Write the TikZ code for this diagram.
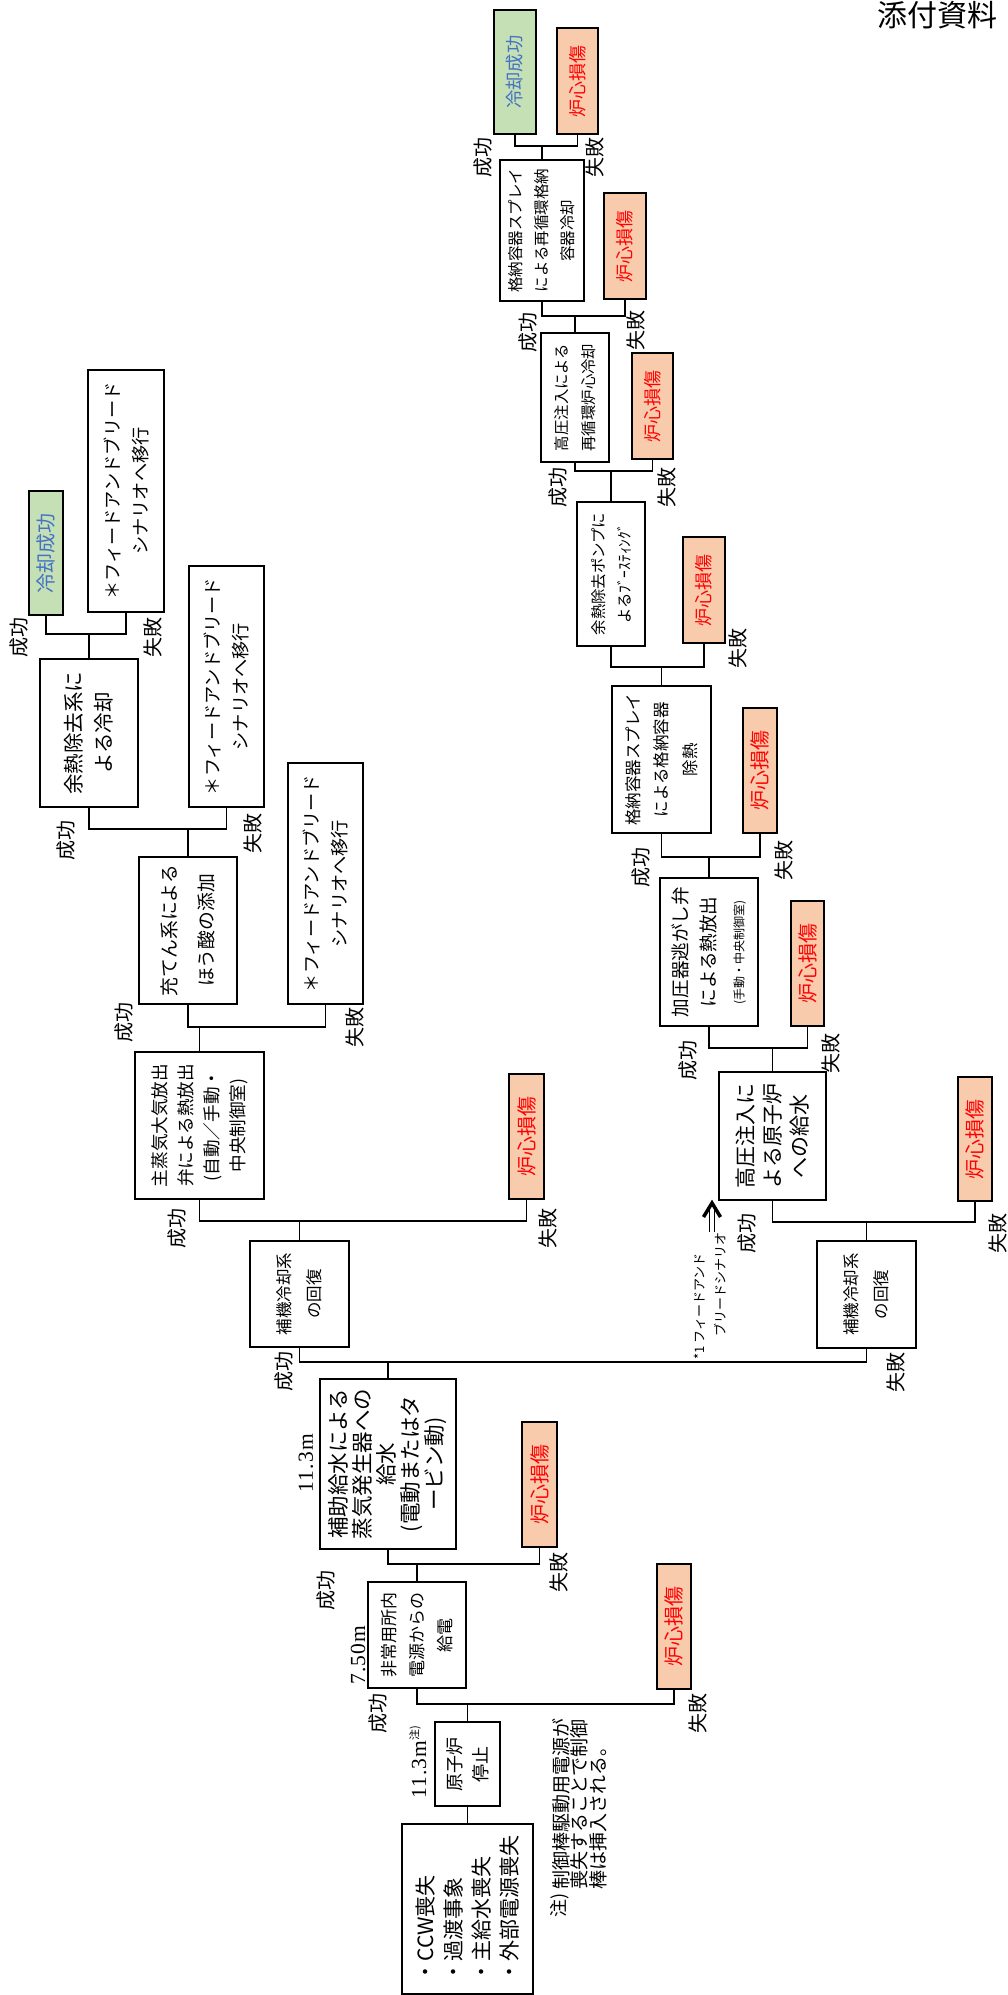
\documentclass[tikz,border=0pt]{standalone}
\usepackage{fontspec}
\setmainfont{Noto Sans CJK JP}
\newfontfamily\serifnum[LetterSpace=6]{Liberation Serif}
\usetikzlibrary{calc}
\definecolor{okgreen}{HTML}{C5E0B4}
\definecolor{okblue}{HTML}{4472C4}
\definecolor{cdfill}{HTML}{F8CBAD}
\definecolor{cdred}{HTML}{FF0000}
\begin{document}
\begin{tikzpicture}[x=1pt,y=-1pt,
  conn/.style={line width=1.8pt},
  wh/.style 2 args={minimum height=#1pt, minimum width=#2pt},
  fs/.style 2 args={font=\fontsize{#1}{#2}\selectfont},
  box/.style={draw, line width=1.8pt, rotate=90, inner sep=0pt, align=center, fill=white},
  cd/.style={box, fill=cdfill, text=cdred, fs={20}{22}},
  ok/.style={box, fill=okgreen, text=okblue, fs={20}{22}},
  lbl/.style={rotate=90, inner sep=0pt, font=\fontsize{20}{22}\selectfont},
  num/.style={rotate=90, inner sep=0pt, font=\serifnum\fontsize{21.5}{23}\selectfont},
]
\fill[white] (0,0) rectangle (1008,1995);
\useasboundingbox (0,0) rectangle (1008,1995);

% boxes
\node[box, wh={131}{170}, fs={21}{28}, align=left] (ccw) at (467.5,1909) {・CCW喪失\\・過渡事象\\・主給水喪失\\・外部電源喪失};
\node[box, wh={65}{84}, fs={18}{26}] (gen) at (467.5,1764) {原子炉\\停止};
\node[box, wh={98}{106}, fs={17}{28}] (hijo) at (417,1635) {非常用所内\\電源からの\\給電};
\node[cd, wh={34}{125}] (cd1) at (674,1626.5) {炉心損傷};
\node[box, wh={136}{170}, fs={21.5}{24}] (hojo) at (388,1464) {補助給水による\\蒸気発生器への\\給水\\(電動またはタ\\ービン動)};
\node[cd, wh={35}{125}] (cd2) at (539.5,1484.5) {炉心損傷};
\node[box, wh={99}{106}, fs={16.5}{30}] (hokia) at (299.5,1294) {補機冷却系\\の回復};
\node[box, wh={99}{107}, fs={16.5}{30}] (hokib) at (866.5,1294.5) {補機冷却系\\の回復};
\node[box, wh={129}{147}, fs={17.6}{26}] (msv) at (199.5,1125.5) {主蒸気大気放出\\弁による熱放出\\(自動／手動・\\中央制御室)};
\node[cd, wh={35}{125}] (cd3) at (526.5,1136.5) {炉心損傷};
\node[box, wh={98}{147}, fs={18.8}{37}] (boric) at (188,930.5) {充てん系による\\ほう酸の添加};
\node[box, wh={75}{241}, fs={18.2}{28}] (fbc) at (325.5,883.5) {＊フィードアンドブリード\\シナリオへ移行};
\node[box, wh={98}{148}, fs={20.5}{30}] (rhr) at (89,733) {余熱除去系に\\よる冷却};
\node[box, wh={75}{241}, fs={18.2}{28}] (fbb) at (226.5,686.5) {＊フィードアンドブリード\\シナリオへ移行};
\node[ok, wh={34}{124}] (oka) at (46,553) {冷却成功};
\node[box, wh={76}{242}, fs={18.2}{28}] (fba) at (126,491) {＊フィードアンドブリード\\シナリオへ移行};
\node[box, wh={107}{128}, fs={21}{27}] (hpi) at (772.5,1136) {高圧注入に\\よる原子炉\\への給水};
\node[cd, wh={34}{124}] (cd4) at (975,1139) {炉心損傷};
\node[box, wh={98}{148}, fs={18.6}{28}] (porv) at (709,952) {加圧器逃がし弁\\による熱放出\\{\fontsize{12}{14}\selectfont (手動・中央制御室)}};
\node[cd, wh={33}{125}] (cd5) at (807.5,963.5) {炉心損傷};
\node[box, wh={99}{147}, fs={16.5}{28.5}] (csa) at (661.5,759.5) {格納容器スプレイ\\による格納容器\\除熱};
\node[cd, wh={34}{125}] (cd6) at (760,770.5) {炉心損傷};
\node[box, wh={68}{144}, fs={15.4}{26}] (rhrp) at (611,574) {余熱除去ポンプに\\よるﾌﾞｰｽﾃｨﾝｸﾞ};
\node[cd, wh={42}{106}, fs={18}{20}] (cd7) at (704,590) {炉心損傷};
\node[box, wh={68}{129}, fs={15.4}{27}] (hpr) at (575,397.5) {高圧注入による\\再循環炉心冷却};
\node[cd, wh={41}{106}, fs={18}{20}] (cd8) at (652.5,406) {炉心損傷};
\node[box, wh={84}{141}, fs={15.5}{26}] (csr) at (542,230.5) {格納容器スプレイ\\による再循環格納\\容器冷却};
\node[cd, wh={42}{106}, fs={18}{20}] (cd9) at (625,246) {炉心損傷};
\node[ok, wh={42}{124}, fs={18.3}{20}] (okb) at (515,72) {冷却成功};
\node[cd, wh={41}{106}, fs={18}{20}] (cd10) at (577.5,81) {炉心損傷};

% connectors
\draw[conn] (ccw.east) -- (gen.west);
\draw[conn] (gen.east) -- ++(0,-17) coordinate (jgen);
\draw[conn] (hijo.west) |- (jgen) -| (cd1.west);
\draw[conn] (hijo.east) -- ++(0,-17) coordinate (jhijo);
\draw[conn] (hojo.west) |- (jhijo) -| (cd2.west);
\draw[conn] (hojo.east) -- ++(0,-16) coordinate (jhojo);
\draw[conn] (hokia.west) |- (jhojo) -| (hokib.west);
\draw[conn] (hokia.east) -- ++(0,-19) coordinate (jhokia);
\draw[conn] (msv.west) |- (jhokia) -| (cd3.west);
\draw[conn] (msv.east) -- ++(0,-24) coordinate (jmsv);
\draw[conn] (boric.west) |- (jmsv) -| (fbc.west);
\draw[conn] (boric.east) -- ++(0,-27) coordinate (jboric);
\draw[conn] (rhr.west) |- (jboric) -| (fbb.west);
\draw[conn] (rhr.east) -- ++(0,-24) coordinate (jrhr);
\draw[conn] (oka.west) |- (jrhr) -| (fba.west);
\draw[conn] (hokib.east) -- ++(0,-18) coordinate (jhokib);
\draw[conn] (hpi.west) |- (jhokib) -| (cd4.west);
\draw[conn] (hpi.east) -- ++(0,-23) coordinate (jhpi);
\draw[conn] (porv.west) |- (jhpi) -| (cd5.west);
\draw[conn] (porv.east) -- ++(0,-20) coordinate (jporv);
\draw[conn] (csa.west) |- (jporv) -| (cd6.west);
\draw[conn] (csa.east) -- ++(0,-18) coordinate (jcsa);
\draw[conn] (rhrp.west) |- (jcsa) -| (cd7.west);
\draw[conn] (rhrp.east) -- ++(0,-30) coordinate (jrhrp);
\draw[conn] (hpr.west) |- (jrhrp) -| (cd8.west);
\draw[conn] (hpr.east) -- ++(0,-16) coordinate (jhpr);
\draw[conn] (csr.west) |- (jhpr) -| (cd9.west);
\draw[conn] (csr.east) -- ++(0,-13) coordinate (jcsr);
\draw[conn] (okb.west) |- (jcsr) -| (cd10.west);

% success labels
\node[lbl] (s1) at (378,1713) {成功};
\node[lbl] (s2) at (326,1590) {成功};
\node[lbl] (s3) at (284,1371) {成功};
\node[lbl] (s4) at (177,1228) {成功};
\node[lbl] (s5) at (124,1022) {成功};
\node[lbl] (s6) at (66,840) {成功};
\node[lbl] (s7) at (19,637) {成功};
\node[lbl] (s8) at (747,1233) {成功};
\node[lbl] (s9) at (688,1060) {成功};
\node[lbl] (s10) at (641,867) {成功};
\node[lbl] (s11) at (558,487) {成功};
\node[lbl] (s12) at (528,332) {成功};
\node[lbl] (s13) at (483,157) {成功};
% failure labels
\node[lbl] (f1) at (698,1713) {失敗};
\node[lbl] (f2) at (559,1572) {失敗};
\node[lbl] (f3) at (896,1372) {失敗};
\node[lbl] (f4) at (548,1228) {失敗};
\node[lbl] (f5) at (355,1027) {失敗};
\node[lbl] (f6) at (253,833) {失敗};
\node[lbl] (f7) at (153,637) {失敗};
\node[lbl] (f8) at (998,1233) {失敗};
\node[lbl] (f9) at (831,1053) {失敗};
\node[lbl] (f10) at (784,860) {失敗};
\node[lbl] (f11) at (738,648) {失敗};
\node[lbl] (f12) at (667,487) {失敗};
\node[lbl] (f13) at (636,330) {失敗};
\node[lbl] (f14) at (595,157) {失敗};

% heights
\node[num] (h1) at (418,1762) {11.3m\textsuperscript{\fontsize{11}{12}\selectfont\rmfamily 注)}};
\node[num] (h2) at (358,1655) {7.50m};
\node[num] (h3) at (306,1463) {11.3m};

% note
\node[lbl, font=\fontsize{18}{20}\selectfont] (noteh) at (560,1905) {注)};
\node[rotate=90, inner sep=0pt, anchor=north west, align=left, font=\fontsize{19}{18.5}\selectfont] (note) at (552,1890) {制御棒駆動用電源が\\喪失することで制御\\棒は挿入される。};

% feed and bleed pointer
\node[rotate=90, inner sep=0pt, anchor=west, font=\fontsize{13}{15}\selectfont] (fbn1) at (700,1360) {*1 フィードアンド};
\node[rotate=90, inner sep=0pt, anchor=west, font=\fontsize{13}{15}\selectfont] (fbn2) at (720,1337) {ブリードシナリオ};
\draw[line width=1.2pt] (709.5,1232) -- (709.5,1209) (714.5,1232) -- (714.5,1209);
\draw[line width=3.5pt] (703.5,1217) -- (712,1203) -- (720.5,1217);

% header
\node[anchor=base east, inner sep=0pt, font=\fontsize{30}{32}\selectfont] (hdr) at (998,26) {添付資料};
\end{tikzpicture}
\end{document}
